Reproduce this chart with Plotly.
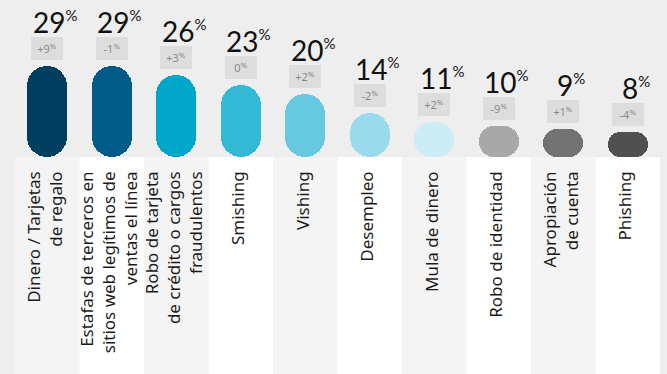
import plotly.graph_objects as go

categories = [
    "Dinero / Tarjetas<br>de regalo",
    "Estafas de terceros en<br>sitios web legítimos de<br>ventas el línea",
    "Robo de tarjeta<br>de crédito o cargos<br>fraudulentos",
    "Smishing",
    "Vishing",
    "Desempleo",
    "Mula de dinero",
    "Robo de identidad",
    "Apropiación<br>de cuenta",
    "Phishing",
]
values = [29, 29, 26, 23, 20, 14, 11, 10, 9, 8]
changes = ["+9", "-1", "+3", "0", "+2", "-2", "+2", "-9", "+1", "-4"]
colors = ["#003f5f", "#005b88", "#00a6c9", "#33b8d6", "#66c9e0",
          "#99dbeb", "#ccedf5", "#a8a8a8", "#727272", "#505050"]

FONT = "Noto Sans"
YMAX = 50.0
PLOT_H = 157
PX_PER_UNIT = PLOT_H / YMAX
BAR_W = 0.62
BAR_PX = 40

fig = go.Figure()
xs = list(range(len(values)))

for i, v in enumerate(values):
    r = min(BAR_PX / 2, v * PX_PER_UNIT / 2)
    fig.add_trace(go.Bar(
        x=[i], y=[v], base=[0], width=BAR_W,
        marker=dict(color=colors[i], line=dict(width=0), cornerradius=r),
        hoverinfo="skip", showlegend=False,
    ))

shapes = []
for i in xs:
    shapes.append(dict(
        type="rect", xref="x", yref="paper",
        x0=i - 0.5, x1=i + 0.5, y0=-3, y1=0,
        fillcolor="#f4f4f4" if i % 2 == 0 else "#ffffff",
        line=dict(width=0), layer="below",
    ))

annotations = []
for i, (v, c) in enumerate(zip(values, changes)):
    annotations.append(dict(
        x=i, y=v, xref="x", yref="y", yanchor="bottom", xanchor="center",
        yshift=6, showarrow=False,
        text=f"{c}<sup>%</sup>",
        font=dict(family=FONT, size=11, color="#8a8a8a"),
        bgcolor="#dddddd", borderwidth=0, borderpad=0,
        width=32, height=23, valign="middle",
    ))
    annotations.append(dict(
        x=i, y=v, xref="x", yref="y", yanchor="bottom", xanchor="center",
        yshift=25, xshift=8, showarrow=False,
        text=f"{v}<sup><span style='font-size:15px'>%</span></sup>",
        font=dict(family="Lato", size=28, color="#111111"),
    ))

fig.update_layout(
    width=667, height=374,
    margin=dict(l=15, r=7, t=0, b=217),
    paper_bgcolor="#eeeeee", plot_bgcolor="#eeeeee",
    barmode="overlay", bargap=0,
    shapes=shapes, annotations=annotations,
    showlegend=False,
    xaxis=dict(
        range=[-0.5, len(values) - 0.5],
        tickmode="array", tickvals=xs, ticktext=categories,
        tickangle=-90, showgrid=False, zeroline=False, showline=False,
        ticks="", ticklabelstandoff=10, ticklabelshift=-2,
        tickfont=dict(family=FONT, size=17, color="#1a1a1a"),
        fixedrange=True, automargin=False,
    ),
    yaxis=dict(range=[0, YMAX], visible=False, fixedrange=True, automargin=False),
)

fig.write_html(
    "out.html",
    config={"displayModeBar": False},
    post_script="document.body.style.margin='0';document.body.style.background='#eeeeee';",
)
